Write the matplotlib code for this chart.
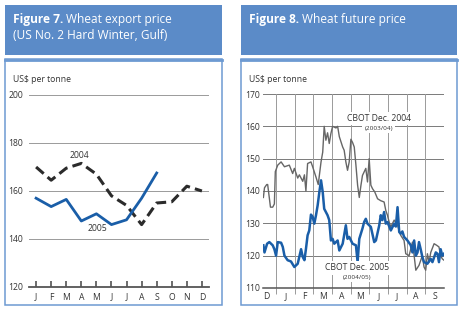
import matplotlib
matplotlib.use("Agg")
import matplotlib.pyplot as plt
from matplotlib.patches import Rectangle

plt.rcParams['font.family'] = ['Open Sans', 'DejaVu Sans']

# Figure 7: monthly export price, US$ per tonne
months = ['J', 'F', 'M', 'A', 'M', 'J', 'J', 'A', 'S', 'O', 'N', 'D']
price_2004 = [170, 164.5, 169.5, 171.5, 167, 158, 154, 146, 155, 155.5, 162, 160]
price_2005 = [157, 153.5, 156.5, 147.5, 150.5, 146, 148, 157, 167.5]

# Figure 8: futures, x in months from 1 January
fut_months = ['D', 'J', 'F', 'M', 'A', 'M', 'J', 'J', 'A', 'S']
cbot04_t = [-0.68, -0.62, -0.50, -0.45, -0.30, -0.18, -0.09, -0.04, 0.09, 0.27,
            0.45, 0.71, 0.89, 0.98, 1.16, 1.25, 1.43, 1.52, 1.60, 1.69,
            1.87, 1.96, 2.14, 2.26, 2.41, 2.50, 2.58, 2.67, 2.76, 2.85,
            2.94, 3.03, 3.21, 3.30, 3.39, 3.57, 3.65, 3.74, 3.83, 3.92,
            4.01, 4.10, 4.19, 4.28, 4.37, 4.46, 4.55, 4.63, 4.81, 4.90,
            4.99, 5.08, 5.17, 5.29, 5.44, 5.61, 5.79, 5.88, 5.97, 6.06,
            6.15, 6.33, 6.51, 6.68, 6.86, 6.95, 7.13, 7.31, 7.40, 7.49,
            7.66, 7.84, 7.93, 8.02, 8.11, 8.20, 8.29, 8.47, 8.61, 8.73,
            8.82, 8.91, 9.00]
cbot04_v = [138, 141, 142, 142, 135, 135, 136, 146, 148, 149,
            147.5, 148, 145.4, 147, 144, 145, 143, 145, 140, 148.5,
            149, 147.5, 144.3, 142, 149, 152, 160, 155.7, 158, 154.7,
            157.8, 160, 159.5, 160, 156.8, 153.6, 152.6, 149, 146.4, 149,
            156, 155, 153.6, 148, 141.8, 138, 141.8, 144.8, 147, 142.8,
            150, 141.8, 140.7, 139.7, 137.6, 137, 136.6, 134, 132.5, 130.4,
            128.9, 131, 129.4, 126.3, 124.7, 120.6, 120, 124.2, 120, 115.5,
            117, 120, 116.5, 115.5, 120.6, 118, 121, 123.7, 123.2, 122.7,
            120, 119, 118.6]
cbot05_t = [-0.68, -0.62, -0.48, -0.36, -0.18, -0.09, 0.00, 0.09, 0.27, 0.36,
            0.45, 0.62, 0.80, 0.98, 1.07, 1.16, 1.34, 1.43, 1.52, 1.60,
            1.69, 1.78, 1.87, 1.96, 2.05, 2.14, 2.23, 2.32, 2.41, 2.50,
            2.58, 2.76, 2.85, 2.94, 3.03, 3.12, 3.30, 3.39, 3.57, 3.74,
            3.83, 3.92, 4.10, 4.28, 4.37, 4.46, 4.63, 4.72, 4.81, 4.90,
            5.08, 5.26, 5.35, 5.53, 5.61, 5.70, 5.79, 5.88, 5.97, 6.15,
            6.33, 6.42, 6.51, 6.60, 6.68, 6.77, 6.86, 7.04, 7.22, 7.31,
            7.40, 7.49, 7.58, 7.66, 7.75, 7.84, 7.93, 8.11, 8.29, 8.38,
            8.56, 8.65, 8.73, 8.82, 8.91, 9.00]
cbot05_v = [123.2, 121, 123.7, 124.2, 123.2, 122, 120, 124.2, 124, 122.7,
            120, 118.6, 118.2, 116.5, 117, 117.5, 122, 119.6, 118.6, 122,
            126.3, 127.8, 132.7, 132, 129.9, 132.5, 135.6, 139.7, 143.3, 139.7,
            134.5, 132.5, 131, 124.7, 125.2, 123.7, 124.7, 121.6, 123.7, 129.4,
            125.2, 125.8, 123.7, 123.2, 118, 125.2, 128.4, 130.4, 131.4, 129.9,
            128.9, 124.2, 124.7, 129.4, 132.5, 131, 133.5, 129.9, 130.4, 127.8,
            129.9, 129, 135, 127.3, 126.8, 127.5, 125.8, 124.7, 123.2, 121,
            124.7, 120, 121, 124.2, 122, 119.6, 118, 117.5, 119, 118,
            121, 120.6, 118, 122, 120, 120.6]

W, H = 461, 310
HEAD = '#5b8bc8'
BORDER = '#6d9ad2'
TXT = '#333333'

fig = plt.figure(figsize=(W / 100, H / 100), dpi=100)


def px(x0, y0, x1, y1):
    # pixel box (top-left origin) -> figure fraction rect
    return [x0 / W, 1 - y1 / H, (x1 - x0) / W, (y1 - y0) / H]


def panel(x0, x1, bold, rest, line2):
    r = px(x0, 5, x1, 55)
    fig.patches.append(Rectangle(r[:2], r[2], r[3], transform=fig.transFigure,
                                 facecolor=HEAD, edgecolor='none'))
    r = px(x0, 59, x1, 305)
    fig.patches.append(Rectangle(r[:2], r[2], r[3], transform=fig.transFigure,
                                 facecolor='white', edgecolor=BORDER, lw=1.1))
    fig.add_artist(plt.Line2D([x0 / W, x1 / W], [1 - 59.5 / H] * 2,
                              transform=fig.transFigure, color=BORDER, lw=2))
    t = fig.text((x0 + 8) / W, 1 - 19 / H, bold, color='white', fontsize=8.6,
                 fontweight='bold', va='center')
    bb = t.get_window_extent(renderer=fig.canvas.get_renderer())
    fig.text(bb.x1 / W + 3 / W, 1 - 19 / H, rest, color='white', fontsize=8.6, va='center')
    if line2:
        fig.text((x0 + 8) / W, 1 - 35.5 / H, line2, color='white', fontsize=8.6, va='center')
    fig.text((x0 + 8) / W, 1 - 80 / H, 'US$ per tonne', color=TXT, fontsize=6.2, va='center')


panel(5, 222, 'Figure 7.', 'Wheat export price', '(US No. 2 Hard Winter, Gulf)')
panel(241, 457, 'Figure 8.', 'Wheat future price', None)

# ---- Figure 7
ax1 = fig.add_axes(px(29, 95, 209, 287))
ax1.set_zorder(3)
ax1.set_xlim(-0.47, 11.47)
ax1.set_ylim(120, 200)
for v in [140, 160, 180, 200]:
    ax1.axhline(v, color='#9a9a9a', lw=0.7, zorder=1)
ax1.plot(range(len(price_2004)), price_2004, color='#2b2b2b', lw=2.2,
         dashes=(3.3, 1.7), zorder=3)
ax1.plot(range(len(price_2005)), price_2005, color='#1a5ea8', lw=2.0, zorder=4)
ax1.text(2.9, 175, '2004', fontsize=6.2, color=TXT, ha='center', va='center')
ax1.text(4.05, 144.2, '2005', fontsize=6.2, color=TXT, ha='center', va='center')
for s in ['left', 'right', 'top']:
    ax1.spines[s].set_visible(False)
ax1.spines['bottom'].set_color('#555555')
ax1.spines['bottom'].set_linewidth(1.3)
ax1.set_xticks(range(12))
ax1.set_xticklabels(months)
ax1.tick_params(axis='x', direction='in', length=4, width=1.1, color='#444444',
                labelsize=6.2, labelcolor=TXT, pad=4)
ax1.set_yticks([120, 140, 160, 180, 200])
ax1.tick_params(axis='y', length=0, labelsize=6.2, labelcolor=TXT, pad=4)
ax1.patch.set_alpha(0)

# ---- Figure 8
ax2 = fig.add_axes(px(263, 94, 444, 288))
ax2.set_zorder(3)
ax2.set_xlim(-0.7, 9)
ax2.set_ylim(110, 170)
for v in range(120, 171, 10):
    ax2.axhline(v, color='#7a7a7a', lw=0.7, zorder=1)
for m in range(0, 9):
    ax2.axvline(m, color='#9a9a9a', lw=0.7, zorder=1)
ax2.plot(cbot04_t, cbot04_v, color='#666666', lw=1.0, zorder=3)
ax2.plot(cbot05_t, cbot05_v, color='#1a5ea8', lw=1.8, zorder=4)
box = dict(facecolor='white', edgecolor='none', pad=1.5)
ax2.text(5.5, 162.3, 'CBOT Dec. 2004', fontsize=6.2, color=TXT, ha='center',
         va='center', bbox=box, zorder=5)
ax2.text(5.5, 159.4, '(2003/04)', fontsize=4.6, color=TXT, ha='center',
         va='center', bbox=box, zorder=5)
ax2.text(4.33, 116.2, 'CBOT Dec. 2005', fontsize=6.2, color=TXT, ha='center',
         va='center', bbox=box, zorder=5)
ax2.text(4.33, 113.4, '(2004/05)', fontsize=4.6, color=TXT, ha='center',
         va='center', bbox=box, zorder=5)
for s in ['left', 'right', 'top']:
    ax2.spines[s].set_visible(False)
ax2.spines['bottom'].set_color('#555555')
ax2.spines['bottom'].set_linewidth(1.1)
ax2.set_xticks(range(0, 9))
ax2.set_xticklabels([])
ax2.tick_params(axis='x', which='major', direction='out', length=4, width=0.7,
                color='#9a9a9a')
ax2.set_xticks([m - 0.5 for m in range(len(fut_months))], minor=True)
ax2.set_xticklabels(fut_months, minor=True)
ax2.tick_params(axis='x', which='minor', length=0, labelsize=6.2, labelcolor=TXT, pad=3)
ax2.set_yticks(range(110, 171, 10))
ax2.tick_params(axis='y', length=0, labelsize=6.2, labelcolor=TXT, pad=2)
ax2.patch.set_alpha(0)

fig.savefig('out.png', dpi=100)
